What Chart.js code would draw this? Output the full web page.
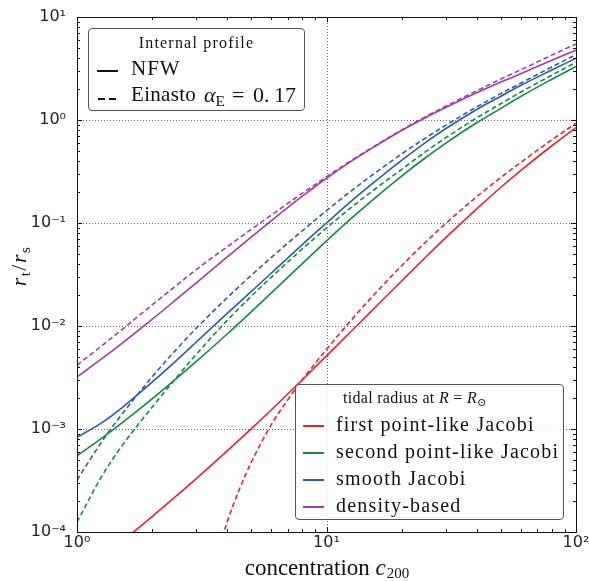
<!DOCTYPE html>
<html>
<head>
<meta charset="utf-8">
<title>tidal radius vs concentration</title>
<script src="https://cdn.jsdelivr.net/npm/chart.js@4.4.1/dist/chart.umd.min.js"></script>
<style>
  html, body { margin:0; padding:0; background:#fff; }
  #wrap { position:relative; width:589px; height:581px; overflow:hidden; }
  #wrap canvas { position:absolute; left:0; top:0; }
  .leg { position:absolute; border:1px solid #555; border-radius:4px; background:rgba(255,255,255,0.82); box-sizing:border-box; }
  .lt { position:absolute; font-family:'Liberation Serif','DejaVu Serif',serif; color:#111; white-space:nowrap; line-height:1; }
  .ls { position:absolute; height:0; }
  .lt sub { font-size:70%; vertical-align:-0.25em; line-height:0; letter-spacing:0; }
</style>
</head>
<body>
<div id="wrap">
  <canvas id="tidalChart" width="589" height="581"></canvas>

  <!-- legend: internal profile -->
  <div class="leg" style="left:88px;top:28px;width:217px;height:83px;">
    <div class="lt" style="left:0;width:100%;text-align:center;top:6px;font-size:16px;letter-spacing:1.2px;">Internal profile</div>
    <div class="ls" style="left:8px;top:41px;width:21px;border-top:2px solid #111;"></div>
    <div class="lt" style="left:42px;top:29px;font-size:21px;letter-spacing:1px;">NFW</div>
    <div class="ls" style="left:9px;top:69px;width:7px;border-top:2px solid #111;"></div>
    <div class="ls" style="left:20px;top:69px;width:7px;border-top:2px solid #111;"></div>
    <div class="lt" style="left:42px;top:55px;font-size:21px;letter-spacing:0.3px;">Einasto</div>
    <div class="lt" style="left:115px;top:55px;font-size:22px;"><i>α</i><sub>E</sub></div>
    <div class="lt" style="left:143px;top:55px;font-size:22px;">=</div>
    <div class="lt" style="left:164px;top:55px;font-size:22px;">0.&#8201;17</div>
  </div>

  <!-- legend: tidal radius -->
  <div class="leg" style="left:295px;top:384px;width:269px;height:136px;">
    <div class="lt" style="left:47px;top:5px;font-size:16px;letter-spacing:0.3px;">tidal radius at <i>R</i> = <i>R</i><sub>⊙</sub></div>
    <div class="ls" style="left:7px;top:40px;width:21px;border-top:2px solid #e8232c;"></div>
    <div class="lt" style="left:40px;top:29px;font-size:20px;letter-spacing:1.2px;">first point-like Jacobi</div>
    <div class="ls" style="left:7px;top:67px;width:21px;border-top:2px solid #138a42;"></div>
    <div class="lt" style="left:40px;top:56px;font-size:20px;letter-spacing:1.2px;">second point-like Jacobi</div>
    <div class="ls" style="left:7px;top:94px;width:21px;border-top:2px solid #2a5caa;"></div>
    <div class="lt" style="left:40px;top:83px;font-size:20px;letter-spacing:1.2px;">smooth Jacobi</div>
    <div class="ls" style="left:7px;top:121px;width:21px;border-top:2px solid #a23aa8;"></div>
    <div class="lt" style="left:40px;top:110px;font-size:20px;letter-spacing:1.2px;">density-based</div>
  </div>
</div>

<script>
/* ── DATA ── */
// concentration grid c200
var concGrid = [1, 1.25, 1.5, 2, 2.5, 3, 4, 5, 6, 8, 10, 12.5, 15, 20, 25, 30, 40, 50, 60, 80, 100];

// density-based (purple)
var densityNFW = [3.2e-3, 4.76e-3, 6.67e-3, 0.0116, 0.0181, 0.0261, 0.0468, 0.0733, 0.105, 0.182, 0.272, 0.394, 0.522, 0.791, 1.059, 1.321, 1.837, 2.333, 2.812, 3.80, 4.76];
var densityEin = [4.17e-3, 6.35e-3, 9.06e-3, 0.0160, 0.0247, 0.0351, 0.0589, 0.0871, 0.119, 0.195, 0.281, 0.401, 0.528, 0.80, 1.079, 1.358, 1.923, 2.50, 3.069, 4.266, 5.47];

// smooth Jacobi (blue)
var smoothNFW = [8.3e-4, 1.14e-3, 1.58e-3, 2.85e-3, 4.62e-3, 6.95e-3, 0.01324, 0.0217, 0.0325, 0.0617, 0.1, 0.161, 0.233, 0.406, 0.607, 0.822, 1.266, 1.702, 2.163, 3.055, 3.98];
var smoothEin = [3.19e-4, 7.38e-4, 1.35e-3, 3.2e-3, 5.92e-3, 9.46e-3, 0.01884, 0.0311, 0.0461, 0.0841, 0.1318, 0.2028, 0.2831, 0.4677, 0.6714, 0.887, 1.34, 1.807, 2.275, 3.273, 4.315];

// second point-like Jacobi (green)
var secondNFW = [5.5e-4, 8.07e-4, 1.127e-3, 1.963e-3, 3.08e-3, 4.5e-3, 8.36e-3, 0.01377, 0.02084, 0.04036, 0.06714, 0.1096, 0.1607, 0.2858, 0.4325, 0.5929, 0.9397, 1.297, 1.69, 2.483, 3.311];
var secondEin = [1.245e-4, 3.4e-4, 6.65e-4, 1.626e-3, 3.14e-3, 5.27e-3, 0.01135, 0.0195, 0.02965, 0.05598, 0.08954, 0.14, 0.1977, 0.3311, 0.4932, 0.6699, 1.049, 1.442, 1.862, 2.723, 3.631];

// first point-like Jacobi (red) - both start below the axis
var concFirstNFW = [1.5, 2, 2.5, 3, 4, 5, 6, 8, 10, 12.5, 15, 20, 25, 30, 40, 50, 60, 80, 100];
var firstNFW = [7.91e-5, 1.413e-4, 2.239e-4, 3.281e-4, 6.124e-4, 1.007e-3, 1.528e-3, 3.006e-3, 5.129e-3, 8.79e-3, 0.01365, 0.02735, 0.04677, 0.07178, 0.1374, 0.2223, 0.3228, 0.5623, 0.8453];
var concFirstEin = [3.5, 4, 4.5, 5, 6, 7, 8, 10, 12.5, 15, 20, 25, 30, 40, 50, 60, 80, 100];
var firstEin = [4.47e-5, 1.259e-4, 2.692e-4, 4.786e-4, 1.096e-3, 1.928e-3, 3.0e-3, 5.929e-3, 0.01125, 0.01845, 0.03846, 0.06546, 0.09863, 0.1799, 0.2773, 0.3873, 0.6412, 0.9311];

// axis ticks
var xMajor = [1, 10, 100];
var yMajor = [1e-4, 1e-3, 1e-2, 1e-1, 1, 10];

var colRed = '#e8232c', colGreen = '#138a42', colBlue = '#2a5caa', colPurple = '#a23aa8';

// helper: pair x/y arrays
function pts(xs, ys) {
    return xs.map(function (c, i) { return { x: c, y: ys[i] }; });
}

function supLabel(v) {
    var sup = { '-': '\u207B', '0': '\u2070', '1': '\u00B9', '2': '\u00B2', '3': '\u00B3', '4': '\u2074' };
    var e = String(Math.round(Math.log10(v)));
    return '10' + e.split('').map(function (ch) { return sup[ch]; }).join('');
}

function line(label, xs, ys, color, dashed) {
    return {
        label: label,
        data: pts(xs, ys),
        borderColor: color,
        borderWidth: 1.6,
        borderDash: dashed ? [5, 3] : [],
        pointRadius: 0,
        fill: false,
        cubicInterpolationMode: 'monotone',
        clip: 0
    };
}

/* frame, dotted grid, inward ticks, axis titles */
var framePlugin = {
    id: 'frame',
    beforeDatasetsDraw: function (chart) {
        var ctx = chart.ctx, a = chart.chartArea, sx = chart.scales.x, sy = chart.scales.y;
        ctx.save();
        ctx.strokeStyle = '#666';
        ctx.lineWidth = 1;
        ctx.setLineDash([1, 2]);
        xMajor.forEach(function (v) {
            if (v <= sx.min || v >= sx.max) return;
            var px = Math.round(sx.getPixelForValue(v)) + 0.5;
            ctx.beginPath(); ctx.moveTo(px, a.top); ctx.lineTo(px, a.bottom); ctx.stroke();
        });
        yMajor.forEach(function (v) {
            if (v <= sy.min || v >= sy.max) return;
            var py = Math.round(sy.getPixelForValue(v)) + 0.5;
            ctx.beginPath(); ctx.moveTo(a.left, py); ctx.lineTo(a.right, py); ctx.stroke();
        });
        ctx.restore();
    },
    afterDatasetsDraw: function (chart) {
        var ctx = chart.ctx, a = chart.chartArea, sx = chart.scales.x, sy = chart.scales.y;
        ctx.save();
        ctx.strokeStyle = '#111';
        ctx.lineWidth = 1;
        ctx.strokeRect(Math.round(a.left) + 0.5, Math.round(a.top) + 0.5,
                       Math.round(a.right - a.left), Math.round(a.bottom - a.top));
        ctx.beginPath();
        // x ticks (top + bottom)
        for (var d = 0; d < 2; d++) {
            for (var m = 1; m <= 9; m++) {
                var v = Math.pow(10, d) * m;
                var len = (m === 1) ? 5 : 3;
                var px = Math.round(sx.getPixelForValue(v)) + 0.5;
                ctx.moveTo(px, a.bottom); ctx.lineTo(px, a.bottom - len);
                ctx.moveTo(px, a.top); ctx.lineTo(px, a.top + len);
            }
        }
        // y ticks (left + right)
        for (var e = -4; e < 1; e++) {
            for (var k = 1; k <= 9; k++) {
                var vy = Math.pow(10, e) * k;
                var ly = (k === 1) ? 5 : 3;
                var py = Math.round(sy.getPixelForValue(vy)) + 0.5;
                ctx.moveTo(a.left, py); ctx.lineTo(a.left + ly, py);
                ctx.moveTo(a.right, py); ctx.lineTo(a.right - ly, py);
            }
        }
        ctx.stroke();
        ctx.restore();
    },
    afterDraw: function (chart) {
        var ctx = chart.ctx, a = chart.chartArea;
        ctx.save();
        ctx.fillStyle = '#111';
        ctx.textBaseline = 'alphabetic';

        /* x title: concentration c_200 */
        var f = 23, fs = 15;
        var fontUp = f + 'px "Liberation Serif"', fontIt = 'italic ' + f + 'px "Liberation Serif"', fontSub = fs + 'px "Liberation Serif"';
        ctx.font = fontUp; var w1 = ctx.measureText('concentration ').width;
        ctx.font = fontIt; var w2 = ctx.measureText('c').width;
        ctx.font = fontSub; var w3 = ctx.measureText('200').width;
        var x0 = (a.left + a.right) / 2 - (w1 + w2 + w3) / 2, yb = 575;
        ctx.font = fontUp; ctx.fillText('concentration ', x0, yb);
        ctx.font = fontIt; ctx.fillText('c', x0 + w1, yb);
        ctx.font = fontSub; ctx.fillText('200', x0 + w1 + w2 + 1, yb + 3);

        /* y title: r_t / r_s */
        var g = 22, gs = 15;
        var gIt = 'italic ' + g + 'px "Liberation Serif"', gUp = g + 'px "Liberation Serif"', gSub = gs + 'px "Liberation Serif"';
        var parts = [['r', gIt, 0], ['t', gSub, 4], ['/', gUp, 0], ['r', gIt, 0], ['s', gSub, 4]];
        var tot = 0, ws = [];
        parts.forEach(function (p) { ctx.font = p[1]; var w = ctx.measureText(p[0]).width + 1.5; ws.push(w); tot += w; });
        ctx.translate(26, 266);
        ctx.rotate(-Math.PI / 2);
        var cx = -tot / 2;
        parts.forEach(function (p, i) { ctx.font = p[1]; ctx.fillText(p[0], cx, p[2]); cx += ws[i]; });
        ctx.restore();
    }
};

document.addEventListener('DOMContentLoaded', function () {
    var canvas = document.getElementById('tidalChart');

    var datasets = [
        line('first point-like Jacobi (NFW)', concFirstNFW, firstNFW, colRed, false),
        line('first point-like Jacobi (Einasto)', concFirstEin, firstEin, colRed, true),
        line('second point-like Jacobi (NFW)', concGrid, secondNFW, colGreen, false),
        line('second point-like Jacobi (Einasto)', concGrid, secondEin, colGreen, true),
        line('smooth Jacobi (NFW)', concGrid, smoothNFW, colBlue, false),
        line('smooth Jacobi (Einasto)', concGrid, smoothEin, colBlue, true),
        line('density-based (NFW)', concGrid, densityNFW, colPurple, false),
        line('density-based (Einasto)', concGrid, densityEin, colPurple, true)
    ];

    new Chart(canvas, {
        type: 'line',
        data: { datasets: datasets },
        options: {
            responsive: false,
            animation: false,
            devicePixelRatio: 1,
            layout: { padding: { top: 17, right: 13, left: 0, bottom: 0 } },
            plugins: { legend: { display: false }, tooltip: { enabled: false } },
            scales: {
                x: {
                    type: 'logarithmic', min: 1, max: 100,
                    afterBuildTicks: function (s) { s.ticks = xMajor.map(function (v) { return { value: v }; }); },
                    afterFit: function (s) { s.height = 49; s.paddingLeft = 0; s.paddingRight = 0; },
                    grid: { display: false },
                    border: { display: false },
                    ticks: {
                        callback: function (v) { return supLabel(v); },
                        font: { family: 'DejaVu Sans', size: 16 },
                        color: '#222', padding: -7, maxRotation: 0, autoSkip: false
                    }
                },
                y: {
                    type: 'logarithmic', min: 1e-4, max: 10,
                    afterBuildTicks: function (s) { s.ticks = yMajor.map(function (v) { return { value: v }; }); },
                    afterFit: function (s) { s.width = 77; s.paddingTop = 0; s.paddingBottom = 0; },
                    grid: { display: false },
                    border: { display: false },
                    ticks: {
                        callback: function (v) { return supLabel(v); },
                        font: { family: 'DejaVu Sans', size: 16 },
                        color: '#222', padding: 3, autoSkip: false
                    }
                }
            }
        },
        plugins: [framePlugin]
    });
});
</script>
</body>
</html>
